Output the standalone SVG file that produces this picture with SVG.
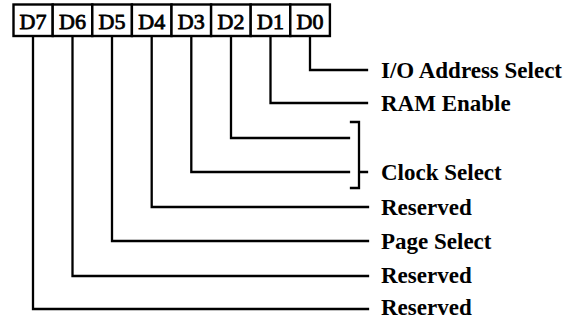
<svg xmlns="http://www.w3.org/2000/svg" width="572" height="320" viewBox="0 0 572 320">
<style>
.box{fill:#fff;stroke:#000;stroke-width:2.4}
.bt{font-family:"Liberation Serif",serif;font-size:22px;fill:#000;stroke:#000;stroke-width:0.8;text-anchor:middle}
.lbl{font-family:"Liberation Serif",serif;font-size:23px;font-weight:bold;fill:#000}
.ln{fill:none;stroke:#000;stroke-width:2.3;stroke-linejoin:miter;stroke-linecap:square}
</style>
<rect width="572" height="320" fill="#fff"/>
<g id="D7"><rect class="box" x="13.5" y="4.5" width="39.2" height="31.5"/><text class="bt" x="33" y="29">D7</text></g>
<g id="D6"><rect class="box" x="52.7" y="4.5" width="39.6" height="31.5"/><text class="bt" x="72.5" y="29">D6</text></g>
<g id="D5"><rect class="box" x="92.3" y="4.5" width="39.6" height="31.5"/><text class="bt" x="112" y="29">D5</text></g>
<g id="D4"><rect class="box" x="131.9" y="4.5" width="39.6" height="31.5"/><text class="bt" x="151.7" y="29">D4</text></g>
<g id="D3"><rect class="box" x="171.5" y="4.5" width="39.6" height="31.5"/><text class="bt" x="191.3" y="29">D3</text></g>
<g id="D2"><rect class="box" x="211.1" y="4.5" width="39.6" height="31.5"/><text class="bt" x="231" y="29">D2</text></g>
<g id="D1"><rect class="box" x="250.7" y="4.5" width="39.6" height="31.5"/><text class="bt" x="270.5" y="29">D1</text></g>
<g id="D0"><rect class="box" x="290.3" y="4.5" width="39.6" height="31.5"/><text class="bt" x="310" y="29">D0</text></g>
<g id="connectors">
<path class="ln" d="M310 37 V70 H367"/>
<path class="ln" d="M270.5 37 V103 H367"/>
<path class="ln" d="M231 37 V138 H349"/>
<path class="ln" d="M191.3 37 V172 H349"/>
<path class="ln" d="M151.7 37 V207 H368"/>
<path class="ln" d="M112 37 V241 H368"/>
<path class="ln" d="M72.5 37 V276 H368"/>
<path class="ln" d="M33 37 V309 H368"/>
<path class="ln" d="M351 122 H359 V188 H351 M359 172 H367"/>
</g>
<g id="labels">
<text class="lbl" x="381" y="78">I/O Address Select</text>
<text class="lbl" x="381" y="111">RAM Enable</text>
<text class="lbl" x="381" y="180">Clock Select</text>
<text class="lbl" x="381" y="215">Reserved</text>
<text class="lbl" x="381" y="249">Page Select</text>
<text class="lbl" x="381" y="283">Reserved</text>
<text class="lbl" x="381" y="315">Reserved</text>
</g>
</svg>
